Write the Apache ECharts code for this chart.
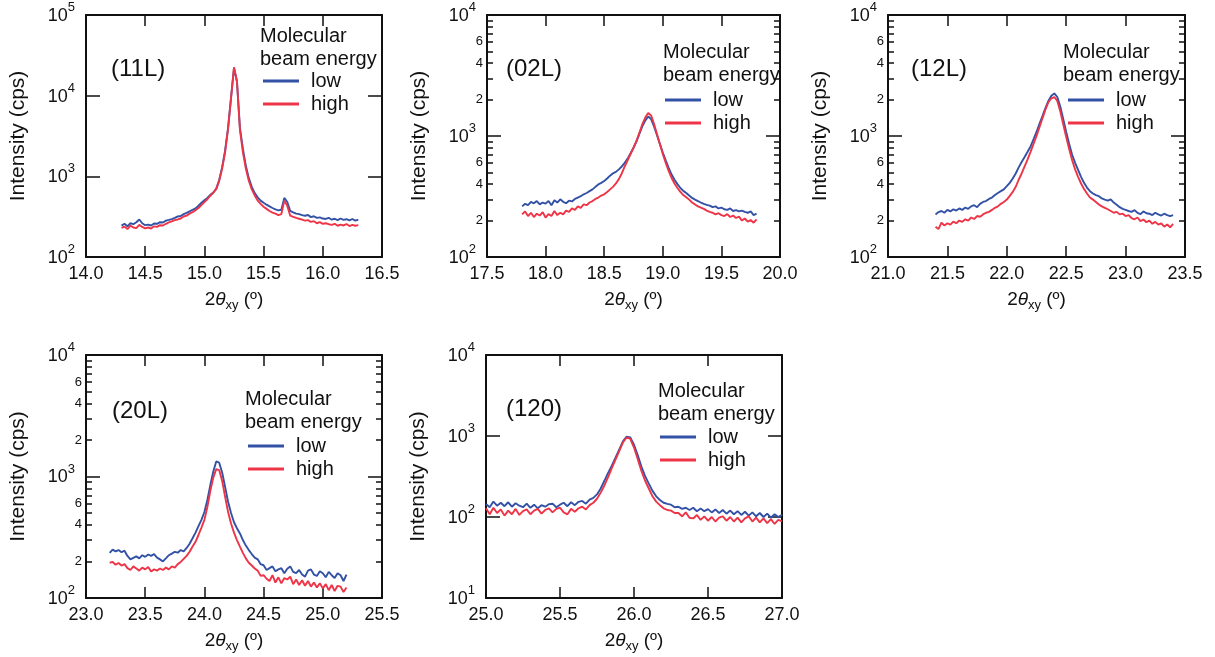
<!DOCTYPE html>
<html>
<head>
<meta charset="utf-8">
<script src="https://cdn.jsdelivr.net/npm/echarts@6/dist/echarts.min.js"></script>
<style>
  html, body { margin: 0; padding: 0; background: #fff; }
  #chart { width: 1215px; height: 657px; }
</style>
</head>
<body>
<div id="chart"></div>
<script>
// ---- data (2θxy in degrees, intensity in cps) ----
const x11L = [
  14.3, 14.325, 14.35, 14.375, 14.4, 14.425, 14.45, 14.475, 14.5, 14.525,
  14.55, 14.575, 14.6, 14.625, 14.65, 14.675, 14.7, 14.725, 14.75, 14.775,
  14.8, 14.825, 14.85, 14.875, 14.9, 14.925, 14.95, 14.975, 15, 15.025,
  15.05, 15.075, 15.1, 15.125, 15.15, 15.175, 15.2, 15.225, 15.25, 15.275,
  15.3, 15.325, 15.35, 15.375, 15.4, 15.425, 15.45, 15.475, 15.5, 15.525,
  15.55, 15.575, 15.6, 15.625, 15.65, 15.675, 15.7, 15.725, 15.75, 15.775,
  15.8, 15.825, 15.85, 15.875, 15.9, 15.925, 15.95, 15.975, 16, 16.025,
  16.05, 16.075, 16.1, 16.125, 16.15, 16.175, 16.2, 16.225, 16.25, 16.275,
  16.3
];
const low11L = [
  245, 258, 240, 262, 255, 270, 292, 262, 248, 252,
  246, 260, 258, 270, 268, 282, 288, 295, 305, 318,
  322, 340, 352, 368, 385, 400, 432, 470, 505, 540,
  590, 630, 700, 900, 1300, 2100, 4000, 9500, 22000, 15000,
  4000, 2200, 1350, 950, 740, 620, 550, 500, 470, 445,
  425, 405, 390, 378, 385, 540, 480, 372, 358, 345,
  340, 330, 325, 332, 312, 320, 305, 310, 300, 296,
  306, 290, 298, 286, 300, 288, 294, 284, 296, 282,
  290
];
const high11L = [
  230, 238, 222, 245, 232, 228, 250, 236, 226, 232,
  225, 240, 236, 248, 246, 258, 268, 276, 286, 292,
  300, 318, 326, 345, 360, 380, 405, 440, 478, 520,
  575, 625, 700, 880, 1250, 2000, 3900, 9300, 22500, 15000,
  3800, 2000, 1250, 880, 690, 580, 500, 455, 420, 395,
  372, 355, 345, 330, 340, 500, 430, 325, 315, 305,
  298, 290, 282, 286, 272, 278, 262, 270, 258, 262,
  255, 250, 258, 244, 252, 246, 256, 242, 250, 244,
  248
];

const x02L = [
  17.8, 17.825, 17.85, 17.875, 17.9, 17.925, 17.95, 17.975, 18, 18.025,
  18.05, 18.075, 18.1, 18.125, 18.15, 18.175, 18.2, 18.225, 18.25, 18.275,
  18.3, 18.325, 18.35, 18.375, 18.4, 18.425, 18.45, 18.475, 18.5, 18.525,
  18.55, 18.575, 18.6, 18.625, 18.65, 18.675, 18.7, 18.725, 18.75, 18.775,
  18.8, 18.825, 18.85, 18.875, 18.9, 18.925, 18.95, 18.975, 19, 19.025,
  19.05, 19.075, 19.1, 19.125, 19.15, 19.175, 19.2, 19.225, 19.25, 19.275,
  19.3, 19.325, 19.35, 19.375, 19.4, 19.425, 19.45, 19.475, 19.5, 19.525,
  19.55, 19.575, 19.6, 19.625, 19.65, 19.675, 19.7, 19.725, 19.75, 19.775,
  19.8
];
const low02L = [
  262, 275, 268, 285, 278, 290, 272, 282, 276, 290,
  268, 295, 282, 300, 286, 278, 292, 288, 302, 310,
  318, 330, 338, 350, 362, 380, 398, 410, 425, 445,
  470, 492, 505, 530, 560, 600, 650, 720, 800, 900,
  1040, 1200, 1340, 1450, 1380, 1200, 1020, 860, 730, 630,
  545, 480, 435, 400, 372, 352, 338, 322, 308, 298,
  290, 282, 275, 270, 266, 258, 262, 252, 256, 248,
  245, 252, 240, 244, 238, 242, 236, 232, 238, 222,
  228
];
const high02L = [
  225, 238, 218, 232, 214, 228, 220, 235, 212, 226,
  218, 240, 222, 232, 225, 242, 236, 252, 245, 262,
  255, 272, 268, 282, 290, 302, 310, 322, 330, 345,
  362, 380, 405, 440, 490, 560, 630, 710, 800, 910,
  1060, 1250, 1420, 1550, 1480, 1260, 1040, 860, 710, 600,
  515, 450, 405, 372, 345, 325, 312, 298, 282, 272,
  262, 256, 250, 242, 236, 232, 225, 230, 222, 218,
  226, 214, 220, 210, 216, 200, 208, 196, 202, 192,
  205
];

const x12L = [
  21.4, 21.425, 21.45, 21.475, 21.5, 21.525, 21.55, 21.575, 21.6, 21.625,
  21.65, 21.675, 21.7, 21.725, 21.75, 21.775, 21.8, 21.825, 21.85, 21.875,
  21.9, 21.925, 21.95, 21.975, 22, 22.025, 22.05, 22.075, 22.1, 22.125,
  22.15, 22.175, 22.2, 22.225, 22.25, 22.275, 22.3, 22.325, 22.35, 22.375,
  22.4, 22.425, 22.45, 22.475, 22.5, 22.525, 22.55, 22.575, 22.6, 22.625,
  22.65, 22.675, 22.7, 22.725, 22.75, 22.775, 22.8, 22.825, 22.85, 22.875,
  22.9, 22.925, 22.95, 22.975, 23, 23.025, 23.05, 23.075, 23.1, 23.125,
  23.15, 23.175, 23.2, 23.225, 23.25, 23.275, 23.3, 23.325, 23.35, 23.375,
  23.4
];
const low12L = [
  225, 235, 240, 232, 245, 238, 248, 242, 252, 245,
  256, 250, 262, 268, 258, 275, 285, 290, 302, 310,
  325, 338, 350, 362, 385, 410, 445, 490, 550, 610,
  670, 740, 820, 940, 1080, 1260, 1460, 1700, 1950, 2150,
  2250, 2100, 1750, 1380, 1080, 860, 700, 600, 525, 460,
  410, 375, 350, 335, 325, 318, 305, 298, 292, 300,
  282, 270, 258, 250, 245, 240, 236, 244, 232, 226,
  238, 230, 228, 222, 232, 225, 220, 228, 222, 218,
  222
];
const high12L = [
  178, 170, 192, 182, 190, 185, 196, 190, 200, 195,
  205, 200, 212, 206, 218, 215, 225, 232, 236, 245,
  255, 262, 275, 285, 298, 320, 345, 380, 435, 490,
  560, 640, 740, 860, 1000, 1180, 1400, 1650, 1900, 2050,
  2100, 1950, 1600, 1250, 980, 780, 630, 530, 460, 405,
  365, 335, 310, 298, 285, 272, 262, 255, 248, 240,
  232, 236, 225, 228, 218, 222, 210, 205, 212, 198,
  204, 194, 200, 188, 195, 185, 190, 178, 186, 176,
  188
];

const x20L = [
  23.2, 23.225, 23.25, 23.275, 23.3, 23.325, 23.35, 23.375, 23.4, 23.425,
  23.45, 23.475, 23.5, 23.525, 23.55, 23.575, 23.6, 23.625, 23.65, 23.675,
  23.7, 23.725, 23.75, 23.775, 23.8, 23.825, 23.85, 23.875, 23.9, 23.925,
  23.95, 23.975, 24, 24.025, 24.05, 24.075, 24.1, 24.125, 24.15, 24.175,
  24.2, 24.225, 24.25, 24.275, 24.3, 24.325, 24.35, 24.375, 24.4, 24.425,
  24.45, 24.475, 24.5, 24.525, 24.55, 24.575, 24.6, 24.625, 24.65, 24.675,
  24.7, 24.725, 24.75, 24.775, 24.8, 24.825, 24.85, 24.875, 24.9, 24.925,
  24.95, 24.975, 25, 25.025, 25.05, 25.075, 25.1, 25.125, 25.15, 25.175,
  25.2
];
const low20L = [
  235, 250, 242, 248, 238, 245, 222, 208, 214, 220,
  212, 225, 218, 228, 222, 230, 215, 208, 200, 212,
  225, 232, 240, 236, 248, 242, 258, 280, 310, 345,
  390, 440, 510, 640, 850, 1100, 1330, 1300, 1080, 820,
  620, 500, 420, 375, 340, 300, 270, 248, 230, 215,
  208, 190, 186, 170, 176, 182, 166, 172, 176, 160,
  174, 182, 164, 160, 170, 156, 150, 168, 172, 156,
  152, 166, 160, 148, 164, 154, 146, 160, 154, 138,
  156
];
const high20L = [
  195, 198, 188, 194, 185, 190, 176, 170, 182, 175,
  168, 178, 172, 180, 165, 172, 168, 175, 170, 178,
  172, 182, 178, 190, 198, 210, 222, 240, 265, 290,
  330, 380, 440, 560, 760, 980, 1150, 1130, 920, 680,
  510, 410, 345, 300, 265, 235, 212, 195, 185, 175,
  168, 152, 154, 144, 138, 154, 134, 148, 132, 146,
  142, 150, 130, 142, 128, 140, 126, 138, 124, 134,
  122, 132, 120, 130, 116, 128, 114, 126, 124, 112,
  122
];

const x120 = [
  25, 25.025, 25.05, 25.075, 25.1, 25.125, 25.15, 25.175, 25.2, 25.225,
  25.25, 25.275, 25.3, 25.325, 25.35, 25.375, 25.4, 25.425, 25.45, 25.475,
  25.5, 25.525, 25.55, 25.575, 25.6, 25.625, 25.65, 25.675, 25.7, 25.725,
  25.75, 25.775, 25.8, 25.825, 25.85, 25.875, 25.9, 25.925, 25.95, 25.975,
  26, 26.025, 26.05, 26.075, 26.1, 26.125, 26.15, 26.175, 26.2, 26.225,
  26.25, 26.275, 26.3, 26.325, 26.35, 26.375, 26.4, 26.425, 26.45, 26.475,
  26.5, 26.525, 26.55, 26.575, 26.6, 26.625, 26.65, 26.675, 26.7, 26.725,
  26.75, 26.775, 26.8, 26.825, 26.85, 26.875, 26.9, 26.925, 26.95, 26.975,
  27
];
const low120 = [
  145, 132, 155, 138, 150, 136, 152, 134, 148, 138,
  132, 146, 130, 142, 128, 140, 134, 144, 146, 132,
  142, 150, 136, 152, 140, 154, 158, 146, 164, 172,
  190, 225, 280, 350, 430, 540, 680, 860, 980, 960,
  780, 580, 420, 320, 258, 210, 180, 162, 150, 145,
  142, 132, 134, 126, 130, 122, 130, 118, 127, 118,
  125, 114, 124, 112, 122, 110, 120, 108, 118, 106,
  116, 104, 114, 102, 112, 100, 110, 98, 108, 100,
  106
];
const high120 = [
  128, 108, 130, 112, 124, 104, 120, 108, 126, 106,
  118, 124, 108, 120, 126, 110, 122, 128, 114, 126,
  130, 114, 108, 126, 116, 128, 134, 124, 140, 150,
  168, 200, 245, 310, 400, 510, 650, 830, 960, 920,
  720, 520, 370, 280, 225, 180, 155, 140, 128, 122,
  120, 112, 112, 102, 114, 98, 96, 106, 92, 102,
  90, 100, 88, 98, 102, 90, 100, 88, 98, 86,
  96, 102, 88, 98, 86, 96, 84, 94, 82, 92,
  88
];

// tick labels
const panelNames = ['(11L)', '(02L)', '(12L)', '(20L)', '(120)'];
const xRanges = [[14.0, 16.5], [17.5, 20.0], [21.0, 23.5], [23.0, 25.5], [25.0, 27.0]];
const yDecades = [[2, 5], [2, 4], [2, 4], [2, 4], [1, 4]];
const minorTickDigits = [2, 3, 4, 5, 6, 7, 8, 9];
const minorLabelDigits = [2, 4, 6];
const legendNames = ['low', 'high'];
const legendTitle = 'Molecular\nbeam energy';

// ---- layout ----
const FONT = '"Liberation Sans", Arial, sans-serif';
const INK = '#111';
const BLUE = '#3352a6';
const RED = '#ee3447';

const panels = [
  { x: x11L, low: low11L, high: high11L, minor: false, box: [86, 15, 296, 242], tag: [111, 57], leg: [260, 25, 263, 71] },
  { x: x02L, low: low02L, high: high02L, minor: true, box: [487, 15, 293, 242], tag: [506, 57], leg: [663, 41, 665, 90] },
  { x: x12L, low: low12L, high: high12L, minor: true, box: [888, 15, 297, 242], tag: [911, 57], leg: [1063, 41, 1068, 90] },
  { x: x20L, low: low20L, high: high20L, minor: true, box: [86, 355, 296, 243], tag: [112, 399], leg: [245, 388, 248, 436] },
  { x: x120, low: low120, high: high120, minor: false, box: [486, 355, 296, 243], tag: [506, 397], leg: [658, 380, 660, 427] }
];

const axisLine = { show: true, lineStyle: { color: INK, width: 2 } };

function minorValues(lo, hi, digits) {
  const out = [];
  for (let n = lo; n < hi; n++) {
    digits.forEach((d) => out.push(Math.log10(d * Math.pow(10, n))));
  }
  return out;
}

const option = {
  animation: false,
  backgroundColor: '#fff',
  grid: [],
  xAxis: [],
  yAxis: [],
  legend: [],
  graphic: [],
  series: []
};

panels.forEach((p, k) => {
  const [gl, gt, gw, gh] = p.box;
  const [xMin, xMax] = xRanges[k];
  const [d0, d1] = yDecades[k];
  option.grid.push({ left: gl, top: gt, width: gw, height: gh, show: false });

  const xi = option.xAxis.length;
  option.xAxis.push({
    type: 'value', gridIndex: k, position: 'bottom', min: xMin, max: xMax, interval: 0.5,
    axisLine,
    axisTick: { inside: true, length: 11, lineStyle: { color: INK, width: 1.5 } },
    axisLabel: { margin: 8, fontSize: 18, fontFamily: FONT, color: INK, formatter: (v) => v.toFixed(1) },
    splitLine: { show: false },
    name: '{n|2}{t|θ}{s|xy}{n| (º)}',
    nameLocation: 'middle',
    nameGap: 33,
    nameTextStyle: {
      rich: {
        n: { fontSize: 19, fontFamily: FONT, color: INK, lineHeight: 22, verticalAlign: 'top' },
        t: { fontSize: 19, fontFamily: FONT, fontStyle: 'italic', color: INK, lineHeight: 22, verticalAlign: 'top' },
        s: { fontSize: 13, fontFamily: FONT, color: INK, lineHeight: 14, padding: [9, 0, 0, 0], verticalAlign: 'top' }
      }
    }
  });
  option.xAxis.push({
    type: 'value', gridIndex: k, position: 'top', min: xMin, max: xMax, interval: 0.5,
    axisLine,
    axisTick: { inside: true, length: 11, lineStyle: { color: INK, width: 1.5 } },
    axisLabel: { show: false },
    splitLine: { show: false }
  });

  const yi = option.yAxis.length;
  option.yAxis.push({
    type: 'log', logBase: 10, gridIndex: k, position: 'left',
    min: Math.pow(10, d0), max: Math.pow(10, d1),
    axisLine,
    axisTick: { inside: true, length: 14, lineStyle: { color: INK, width: 1.5 } },
    axisLabel: {
      margin: 11,
      formatter: (v) => '{b|10}{s|' + Math.round(Math.log10(v)) + '}',
      rich: {
        b: { fontSize: 18, fontFamily: FONT, color: INK, lineHeight: 20, verticalAlign: 'bottom' },
        s: { fontSize: 13, fontFamily: FONT, color: INK, lineHeight: 14, padding: [0, 0, 11, 0], verticalAlign: 'bottom' }
      }
    },
    splitLine: { show: false },
    name: 'Intensity (cps)',
    nameLocation: 'middle',
    nameGap: 57,
    nameTextStyle: { fontSize: 21, fontFamily: FONT, color: INK }
  });
  option.yAxis.push({
    type: 'log', logBase: 10, gridIndex: k, position: 'right',
    min: Math.pow(10, d0), max: Math.pow(10, d1),
    axisLine,
    axisTick: { inside: true, length: 14, lineStyle: { color: INK, width: 1.5 } },
    axisLabel: { show: false },
    splitLine: { show: false }
  });

  if (p.minor) {
    const ticks = minorValues(d0, d1, minorTickDigits);
    const labels = minorValues(d0, d1, minorLabelDigits);
    ['left', 'right'].forEach((pos) => {
      option.yAxis.push({
        type: 'value', gridIndex: k, position: pos, min: d0, max: d1,
        axisLine: { show: false },
        axisTick: { show: true, inside: true, length: 6, customValues: ticks, lineStyle: { color: INK, width: 1.5 } },
        axisLabel: {
          show: pos === 'left',
          customValues: labels,
          margin: 4,
          fontSize: 13, fontFamily: FONT, color: INK,
          formatter: (v) => String(Math.round(Math.pow(10, v - Math.floor(v + 1e-9))))
        },
        splitLine: { show: false }
      });
    });
  }

  option.series.push({
    name: legendNames[0], type: 'line', xAxisIndex: xi, yAxisIndex: yi,
    data: p.x.map((x, i) => [x, p.low[i]]),
    showSymbol: false, symbol: 'none', color: BLUE,
    lineStyle: { color: BLUE, width: 1.9 }
  });
  option.series.push({
    name: legendNames[1], type: 'line', xAxisIndex: xi, yAxisIndex: yi,
    data: p.x.map((x, i) => [x, p.high[i]]),
    showSymbol: false, symbol: 'none', color: RED,
    lineStyle: { color: RED, width: 1.9 }
  });

  const [tx, ty, lx, ly] = p.leg;
  option.legend.push({
    data: legendNames, left: lx, top: ly, orient: 'vertical', padding: 0,
    icon: 'rect', itemWidth: 36, itemHeight: 3, itemGap: 3, selectedMode: false,
    textStyle: { fontSize: 20, fontFamily: FONT, color: INK, lineHeight: 20, padding: [0, 0, 0, 7] }
  });
  option.graphic.push({
    type: 'text', left: tx, top: ty,
    style: { text: legendTitle, fontSize: 20, fontFamily: FONT, fill: INK, lineHeight: 23 }
  });
  option.graphic.push({
    type: 'text', left: p.tag[0], top: p.tag[1],
    style: { text: panelNames[k], fontSize: 24, fontFamily: FONT, fill: INK }
  });
});

const chart = echarts.init(document.getElementById('chart'), null, { renderer: 'canvas' });
chart.setOption(option);
</script>
</body>
</html>
